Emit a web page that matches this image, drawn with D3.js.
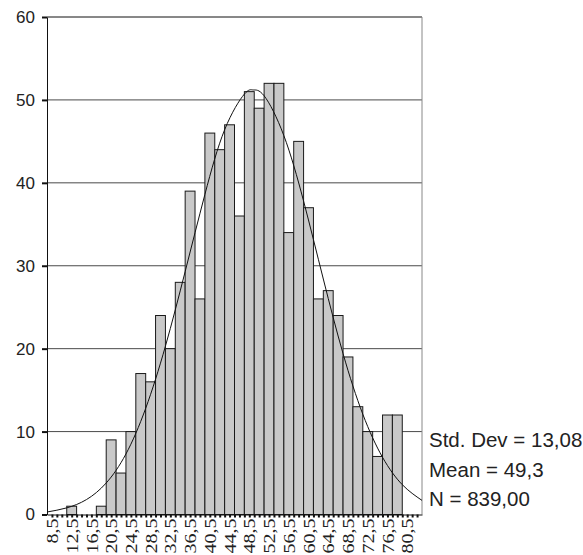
<!DOCTYPE html>
<html>
<head>
<meta charset="utf-8">
<script src="https://cdn.jsdelivr.net/npm/d3@7"></script>
<style>
    body { margin: 0; background: #fff; }
    svg { display: block; }
</style>
</head>
<body>
<svg id="chart" width="583" height="555"></svg>
<script>
// bin midpoints (width 2) and counts
const binMids = [8.5, 10.5, 12.5, 14.5, 16.5, 18.5, 20.5, 22.5, 24.5, 26.5, 28.5, 30.5, 32.5,
    34.5, 36.5, 38.5, 40.5, 42.5, 44.5, 46.5, 48.5, 50.5, 52.5, 54.5, 56.5, 58.5, 60.5,
    62.5, 64.5, 66.5, 68.5, 70.5, 72.5, 74.5, 76.5, 78.5, 80.5];
const counts = [0, 0, 1, 0, 0, 1, 9, 5, 10, 17, 16, 24, 20,
    28, 39, 26, 46, 44, 47, 36, 51, 49, 52, 52, 34, 45, 37,
    26, 27, 24, 19, 13, 10, 7, 12, 12, 0];

// fitted normal curve, heights
const curveX = [7.5, 11.5, 15.5, 19.5, 23.5, 27.5, 31.5, 35.5, 39.5, 43.5, 47.5, 49.3,
    51.5, 55.5, 59.5, 63.5, 67.5, 71.5, 75.5, 79.5, 83.5];
const curveY = [0.3, 0.8, 1.8, 3.8, 7.3, 12.8, 20.3, 29.3, 38.6, 46.4, 50.7, 51.2,
    50.5, 45.7, 37.8, 28.4, 19.4, 12.1, 6.9, 3.6, 1.7];

const yTicks = [0, 10, 20, 30, 40, 50, 60];
const xLabels = [8.5, 12.5, 16.5, 20.5, 24.5, 28.5, 32.5, 36.5, 40.5, 44.5, 48.5, 52.5,
    56.5, 60.5, 64.5, 68.5, 72.5, 76.5, 80.5];
const statLines = ['Std. Dev = 13,08', 'Mean = 49,3', 'N = 839,00'];

const plot = { left: 47, right: 422, top: 17, bottom: 514.5 };

const svg = d3.select('#chart');

const x = d3.scaleLinear()
    .domain([7.5, 83.5])
    .range([plot.left, plot.right]);

const y = d3.scaleLinear()
    .domain([0, 60])
    .range([plot.bottom, plot.top]);

// gridlines
svg.append('g')
    .selectAll('line')
    .data(yTicks.filter(d => d > 0 && d < 60))
    .join('line')
    .attr('x1', plot.left)
    .attr('x2', plot.right)
    .attr('y1', d => y(d))
    .attr('y2', d => y(d))
    .attr('stroke', '#4a4a4a')
    .attr('stroke-width', 1);

// frame top + right
svg.append('line')
    .attr('x1', plot.left).attr('x2', plot.right)
    .attr('y1', y(60)).attr('y2', y(60))
    .attr('stroke', '#111');
svg.append('line')
    .attr('x1', plot.right).attr('x2', plot.right)
    .attr('y1', y(60)).attr('y2', y(0))
    .attr('stroke', '#888');

// bars
svg.append('g')
    .selectAll('rect')
    .data(binMids.map((m, i) => ({ mid: m, count: counts[i] })).filter(d => d.count > 0))
    .join('rect')
    .attr('x', d => x(d.mid - 1))
    .attr('width', d => x(d.mid + 1) - x(d.mid - 1))
    .attr('y', d => y(d.count))
    .attr('height', d => y(0) - y(d.count))
    .attr('fill', '#c9c9c9')
    .attr('stroke', '#1a1a1a')
    .attr('stroke-width', 1);

// normal curve
const line = d3.line()
    .x((d, i) => x(curveX[i]))
    .y(d => y(d))
    .curve(d3.curveNatural);

svg.append('path')
    .attr('d', line(curveY))
    .attr('fill', 'none')
    .attr('stroke', '#111')
    .attr('stroke-width', 1);

// y axis
const yAxis = svg.append('g')
    .attr('transform', `translate(${plot.left},0)`)
    .call(d3.axisLeft(y).tickValues(yTicks).tickSize(5).tickSizeOuter(0).tickPadding(7));
yAxis.select('.domain').attr('stroke', '#111');
yAxis.selectAll('.tick line').attr('stroke', '#111').attr('stroke-width', 2);
yAxis.selectAll('text')
    .attr('font-family', 'Liberation Sans, Arial, sans-serif')
    .attr('font-size', 17)
    .attr('fill', '#222');

// x axis: small ticks every unit
const minorTicks = d3.range(8.5, 83, 1);
const xMinor = svg.append('g')
    .attr('transform', `translate(0,${plot.bottom})`)
    .call(d3.axisBottom(x).tickValues(minorTicks).tickSize(3).tickSizeOuter(0).tickFormat(''));
xMinor.select('.domain').attr('stroke', '#111');
xMinor.selectAll('.tick line').attr('stroke', '#111').attr('stroke-width', 2);

svg.append('line')
    .attr('x1', plot.left - 5).attr('x2', plot.left)
    .attr('y1', plot.bottom).attr('y2', plot.bottom)
    .attr('stroke', '#111');

// x labels, rotated (the glyphs are narrow in the original)
const xAxis = svg.append('g')
    .attr('transform', `translate(0,${plot.bottom})`)
    .call(d3.axisBottom(x).tickValues(xLabels).tickSize(0)
        .tickFormat(d => d3.format('.1f')(d).replace('.', ',')));
xAxis.select('.domain').remove();
xAxis.selectAll('text')
    .attr('font-family', 'Liberation Serif, Times New Roman, serif')
    .attr('font-size', 20)
    .attr('fill', '#222')
    .attr('text-anchor', 'end')
    .attr('dy', '0.33em')
    .attr('transform', 'translate(0,4) rotate(-90) scale(1,0.85)')
    .attr('y', 0)
    .attr('x', 0);

// stats text
svg.append('g')
    .selectAll('text')
    .data(statLines)
    .join('text')
    .attr('x', 429)
    .attr('y', (d, i) => 447 + i * 29.7)
    .attr('font-family', 'Liberation Sans, Arial, sans-serif')
    .attr('font-size', 20.5)
    .attr('fill', '#222')
    .text(d => d);
</script>
</body>
</html>
